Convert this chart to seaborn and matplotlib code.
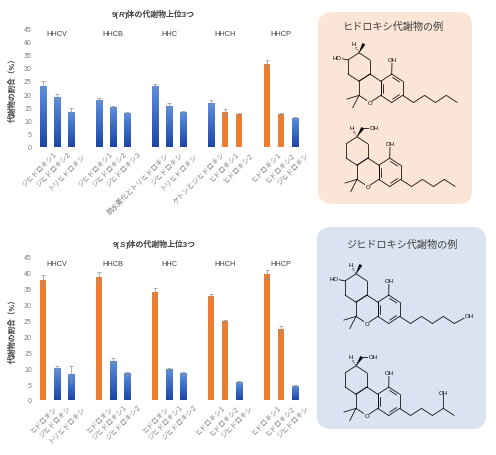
import numpy as np
import pandas as pd
import matplotlib
matplotlib.use('Agg')
import matplotlib.pyplot as plt
import matplotlib.transforms as mtransforms
from matplotlib.colors import LinearSegmentedColormap, same_color
from matplotlib.patches import FancyBboxPatch, Polygon
import seaborn as sns

sns.set_style('white')
plt.rcParams['font.family'] = ['Liberation Sans', 'Noto Sans CJK JP', 'DejaVu Sans']

# ---- data ----
compounds = ['HHCV', 'HHCB', 'HHC', 'HHCH', 'HHCP']

r_labels = [['ジヒドロキシ1', 'ジヒドロキシ2', 'トリヒドロキシ'],
            ['ジヒドロキシ1', 'ジヒドロキシ2', 'ジヒドロキシ3'],
            ['脱水素化とトリヒドロキシ', 'ジヒドロキシ', 'トリヒドロキシ'],
            ['ケトンとジヒドロキシ', 'ヒドロキシ1', 'ヒドロキシ2'],
            ['ヒドロキシ1', 'ヒドロキシ2', 'ジヒドロキシ']]
r_values = [[23.0, 18.8, 13.4],
            [17.8, 15.2, 12.9],
            [23.0, 15.4, 13.1],
            [16.6, 13.1, 12.4],
            [31.5, 12.4, 11.1]]
r_errors = [[2.0, 1.2, 1.3],
            [0.8, 0.3, 0.3],
            [0.8, 1.2, 0.7],
            [1.3, 1.3, 0.6],
            [1.5, 0.3, 0.3]]

s_labels = [['ヒドロキシ', 'ジヒドロキシ', 'トリヒドロキシ'],
            ['ヒドロキシ', 'ジヒドロキシ1', 'ジヒドロキシ2'],
            ['ヒドロキシ', 'ジヒドロキシ1', 'ジヒドロキシ2'],
            ['ヒドロキシ1', 'ヒドロキシ2', 'ジヒドロキシ'],
            ['ヒドロキシ1', 'ヒドロキシ2', 'ジヒドロキシ']]
s_values = [[37.8, 10.0, 8.1],
            [38.8, 12.4, 8.4],
            [33.9, 9.8, 8.4],
            [32.8, 25.0, 5.6],
            [39.6, 22.4, 4.5]]
s_errors = [[1.5, 0.8, 2.7],
            [1.4, 0.8, 0.5],
            [1.2, 0.3, 0.4],
            [0.4, 0.3, 0.3],
            [1.4, 0.9, 0.2]]

ORANGE = '#ed7d31'
BLUE = '#3563c4'
blue_cmap = LinearSegmentedColormap.from_list('bl', ['#1c46a6', '#5d8fe0'])
TXT = '#404040'
GREY = '#7f7f7f'

W, H = 496, 456
fig = plt.figure(figsize=(W / 100, H / 100), dpi=100)


def px_axes(left, top, right, bottom):
    return fig.add_axes([left / W, 1 - bottom / H, (right - left) / W, (bottom - top) / H])


def draw_chart(ax, labels, values, errors):
    rows = []
    for g, comp in enumerate(compounds):
        for j in range(3):
            lab = labels[g][j]
            rows.append({'slot': g * 4 + j, 'label': lab,
                         'value': values[g][j], 'err': errors[g][j],
                         'kind': 'mono' if lab.startswith('ヒドロキシ') else 'poly'})
    df = pd.DataFrame(rows)
    sns.barplot(data=df, x='slot', y='value', hue='kind', dodge=False,
                palette={'mono': ORANGE, 'poly': BLUE}, native_scale=True,
                width=0.46, saturation=1, errorbar=None, legend=False,
                linewidth=0, ax=ax)
    # blue bars get a vertical gradient
    grad = np.linspace(0, 1, 64).reshape(-1, 1)
    for p in list(ax.patches):
        if same_color(p.get_facecolor(), BLUE):
            x0, y0, w, h = p.get_x(), p.get_y(), p.get_width(), p.get_height()
            im = ax.imshow(grad, extent=(x0, x0 + w, y0, y0 + h), origin='lower',
                           cmap=blue_cmap, aspect='auto', zorder=p.get_zorder() + 0.1)
            im.set_clip_path(p)
    ax.errorbar(df['slot'], df['value'], yerr=df['err'], fmt='none',
                ecolor='#8c8c8c', elinewidth=0.5, capsize=1.2, capthick=0.5, zorder=4)
    ax.axhline(0, color='#d9d9d9', lw=0.7, zorder=0.5)
    ax.set_xlim(-0.5, 18.5)
    ax.set_ylim(0, 45)
    ax.set_yticks(range(0, 46, 5))
    ax.tick_params(axis='y', length=0, pad=3, labelsize=5, labelcolor=GREY)
    ax.set_xticks([])
    ax.set_xlabel('')
    sns.despine(ax=ax, left=True, bottom=True)
    ax.set_ylabel('')
    ax.text(-0.088, 0.5, '代謝物の割合（%）', transform=ax.transAxes, rotation=90,
            ha='center', va='center', fontsize=5.5, color=TXT, fontweight='bold')
    for g, comp in enumerate(compounds):
        ax.text(g * 4 + 1, 43, comp, ha='center', va='center', fontsize=5.3, color=TXT)
    trans = mtransforms.blended_transform_factory(ax.transData, ax.transAxes)
    off = mtransforms.ScaledTranslation(11 / 100, -4 / 100, fig.dpi_scale_trans)
    for _, r in df.iterrows():
        ax.text(r['slot'], 0, r['label'], transform=trans + off, rotation=45,
                ha='right', va='top', rotation_mode='anchor', fontsize=5, color=GREY)


def styled_title(cx, base_y, parts, size):
    renderer = fig.canvas.get_renderer()
    texts = []
    for s, italic in parts:
        kw = dict(family=['Liberation Sans'], style='italic') if italic else {}
        t = fig.text(0, 0, s, fontsize=size, fontweight='bold', color=TXT,
                     ha='left', va='baseline', transform=mtransforms.IdentityTransform(), **kw)
        texts.append(t)
    widths = [t.get_window_extent(renderer).width for t in texts]
    x = cx - sum(widths) / 2
    for t, w in zip(texts, widths):
        t.set_position((x, H - base_y))
        x += w


ax1 = px_axes(36, 29, 302, 148)
draw_chart(ax1, r_labels, r_values, r_errors)
ax2 = px_axes(36, 258, 302, 401)
draw_chart(ax2, s_labels, s_values, s_errors)

styled_title(153, 17, [('9(', False), ('R', True), (')体の代謝物上位3つ', False)], 5.7)
styled_title(154, 247, [('9(', False), ('S', True), (')体の代謝物上位3つ', False)], 5.7)

# ---- right-hand example panels ----
ov = fig.add_axes([0, 0, 1, 1])
ov.set_xlim(0, W)
ov.set_ylim(H, 0)
ov.axis('off')

PEACH = '#fae5d7'
LBLUE = '#dae3f1'
ov.add_patch(FancyBboxPatch((318, 13), 154, 192, boxstyle='round,pad=0,rounding_size=14',
                            fc=PEACH, ec='none'))
ov.add_patch(FancyBboxPatch((317, 228), 169, 202, boxstyle='round,pad=0,rounding_size=14',
                            fc=LBLUE, ec='none'))
ov.text(393, 27, 'ヒドロキシ代謝物の例', ha='center', va='center', fontsize=7.3, color=TXT)
ov.text(402, 245, 'ジヒドロキシ代謝物の例', ha='center', va='center', fontsize=7.3, color=TXT)

SX, SY = 12.6, 14.2
HEX = np.array([(0, -1), (0.866, -0.5), (0.866, 0.5), (0, 1), (-0.866, 0.5), (-0.866, -0.5)])
LW = 0.55


def draw_molecule(cx, cy, head, chain, bg):
    P = lambda u, v: np.array([cx + u * SX, cy + v * SY])

    def bond(a, b):
        a, b = P(*a), P(*b)
        ov.plot([a[0], b[0]], [a[1], b[1]], color='k', lw=LW, solid_capstyle='round')

    def label(u, v, s):
        x, y = P(u, v)
        ov.text(x, y, s, ha='center', va='center', fontsize=4.3, color='k', zorder=5,
                bbox=dict(fc=bg, ec='none', pad=0.15))

    def wedge(a, b):
        a, b = P(*a), P(*b)
        d = b - a
        perp = np.array([-d[1], d[0]]) / np.hypot(*d)
        ov.add_patch(Polygon([a, b + perp * 1.4, b - perp * 1.4], closed=True, fc='k', ec='k', lw=0.3))

    def hashed(a, b):
        a, b = P(*a), P(*b)
        d = b - a
        perp = np.array([-d[1], d[0]]) / np.hypot(*d)
        for t in np.linspace(0.2, 1, 4):
            c = a + d * t
            w = 1.4 * t
            ov.plot([c[0] - perp[0] * w, c[0] + perp[0] * w],
                    [c[1] - perp[1] * w, c[1] + perp[1] * w], color='k', lw=0.4)

    centers = {'A': (0, 0), 'B': (0.866, 1.5), 'C': (2.598, 1.5)}
    for ring, (u0, v0) in centers.items():
        pts = HEX + [u0, v0]
        for i in range(6):
            bond(pts[i], pts[(i + 1) % 6])
    # aromatic inner lines of ring C
    cc = np.array(centers['C'])
    pts = HEX + cc
    for i, j in [(5, 4), (0, 1), (2, 3)]:
        a, b = pts[i], pts[j]
        mid = (a + b) / 2
        sh = (cc - mid) / np.hypot(*(cc - mid)) * 0.17
        bond(a + (b - a) * 0.18 + sh, b - (b - a) * 0.18 + sh)
    # O of the pyran ring and gem-dimethyl
    label(0.866, 2.5, 'O')
    bond((0, 2), (-0.966, 2.26))
    bond((0, 2), (-0.5, 2.866))
    # phenol OH
    bond((2.598, 0.5), (2.62, -0.5))
    label(2.62, -0.5, 'OH')
    # C9 substituents
    hashed((0, -1), (-0.33, -1.48))
    label(-0.45, -1.62, 'H')
    if head == 'hydroxy':
        wedge((0, -1), (0.38, -1.62))
        bond((-0.866, -0.5), (-1.75, -0.65))
        label(-1.75, -0.65, 'HO')
    else:
        wedge((0, -1), (0.45, -1.62))
        bond((0.45, -1.62), (1.35, -1.62))
        label(1.35, -1.62, 'OH')
    # side chain
    zig = [(3.464 + 0.866 * k, 2.0 + 0.5 * (k % 2)) for k in range(6)]
    for a, b in zip(zig[:-1], zig[1:]):
        bond(a, b)
    if chain == 'oh_end':
        bond(zig[-1], (8.95, 1.95))
        label(8.95, 1.95, 'OH')
    elif chain == 'oh_4':
        bond(zig[4], (6.95, 0.85))
        label(6.95, 0.85, 'OH')


draw_molecule(359, 68, 'hydroxy', 'plain', PEACH)
draw_molecule(357, 152, 'hydroxymethyl', 'plain', PEACH)
draw_molecule(356, 289, 'hydroxy', 'oh_end', LBLUE)
draw_molecule(356, 381, 'hydroxymethyl', 'oh_4', LBLUE)

fig.savefig('out.png', dpi=100)
